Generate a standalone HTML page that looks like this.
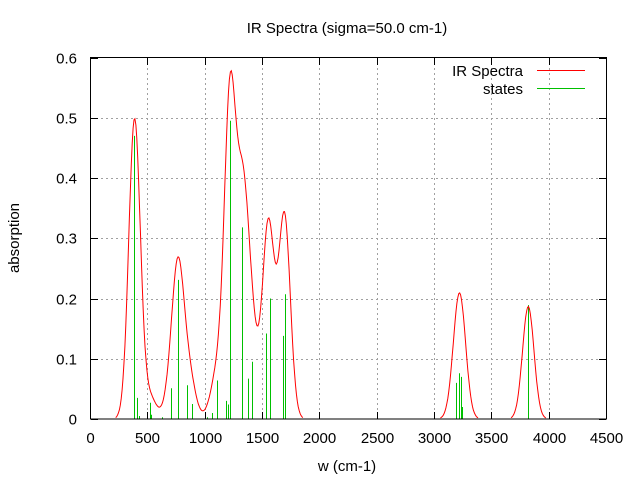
<!DOCTYPE html>
<html><head><meta charset="utf-8"><style>
body{margin:0;background:#fff;}
svg{display:block;font-family:"Liberation Sans",sans-serif;}
</style></head><body>
<svg id="s" width="640" height="480" xmlns="http://www.w3.org/2000/svg">
<rect width="640" height="480" fill="#fff"/>
<g id="grid" stroke="#a0a0a0" stroke-width="1" stroke-dasharray="2,3"></g>
<g id="ticks" stroke="#000" stroke-width="1"></g>
<g id="labels" font-size="15" fill="#000"></g>
<g id="sticks" stroke="#00c000" stroke-width="1"></g>
<rect x="90.5" y="57.5" width="516" height="361.5" fill="none" stroke="#000" stroke-width="1"/>
<text x="347" y="33" font-size="15" text-anchor="middle">IR Spectra (sigma=50.0 cm-1)</text>
<text x="347" y="471" font-size="15" text-anchor="middle">w (cm-1)</text>
<text transform="translate(19,238) rotate(-90)" font-size="15" text-anchor="middle">absorption</text>
<text x="523" y="76" font-size="15" text-anchor="end">IR Spectra</text>
<text x="523" y="94" font-size="15" text-anchor="end">states</text>
<line x1="537" y1="70.5" x2="585" y2="70.5" stroke="#ff0000"/>
<line x1="537" y1="88.5" x2="585" y2="88.5" stroke="#00c000"/>
</svg>
<script>
var X=function(w){return 90+w*516/4500;};
var Y=function(v){return 419-602.5*v;};
var ns="http://www.w3.org/2000/svg";
function el(p,t,a,txt){var e=document.createElementNS(ns,t);for(var k in a)e.setAttribute(k,a[k]);if(txt)e.textContent=txt;document.getElementById(p).appendChild(e);}
for(var w=0;w<=4500;w+=500){var x=Math.round(X(w))+0.5;
 if(w>0&&w<4500)el("grid","line",{x1:x,y1:58,x2:x,y2:419});
 el("ticks","line",{x1:x,y1:419,x2:x,y2:412});el("ticks","line",{x1:x,y1:58,x2:x,y2:65});
 el("labels","text",{x:x,y:443,"text-anchor":"middle"},String(w));}
for(var i=0;i<=6;i++){var v=i/10,y=Math.round(Y(v))+0.5;
 if(i>0&&i<6)el("grid","line",{x1:91,y1:y,x2:606,y2:y});
 el("ticks","line",{x1:91,y1:y,x2:98,y2:y});el("ticks","line",{x1:606,y1:y,x2:599,y2:y});
 el("labels","text",{x:77,y:y+5,"text-anchor":"end"},i==0?"0":v.toFixed(1));}
var S=[[387,.47],[413,.035],[430,.005],[526,.027],[535,.007],[631,.003],[709,.051],[770,.231],[849,.056],[892,.025],[1023,.003],[1066,.01],[1110,.064],[1189,.03],[1206,.024],[1224,.495],[1328,.318],[1381,.067],[1416,.095],[1538,.142],[1567,.2],[1686,.138],[1703,.207],[3195,.06],[3221,.076],[3238,.07],[3247,.02],[3822,.189]];
S.forEach(function(s){var x=Math.round(X(s[0]))+0.5;el("sticks","line",{x1:x,y1:419,x2:x,y2:Y(s[1])});});
var pts=[];
for(var w=0;w<=4500;w+=8){var v=0;S.forEach(function(s){var d=w-s[0];v+=s[1]*Math.exp(-d*d/5000);});
 v*=0.988;
 if(v>0.0015)pts.push(X(w).toFixed(1)+","+Y(v).toFixed(1));else if(pts.length&&pts[pts.length-1]!="|")pts.push("|");}
var segs=pts.join(" ").split("|");
segs.forEach(function(sg){sg=sg.trim();if(sg)el("s","polyline",{points:sg,fill:"none",stroke:"#ff0000","stroke-width":1});});
</script>
</body></html>
